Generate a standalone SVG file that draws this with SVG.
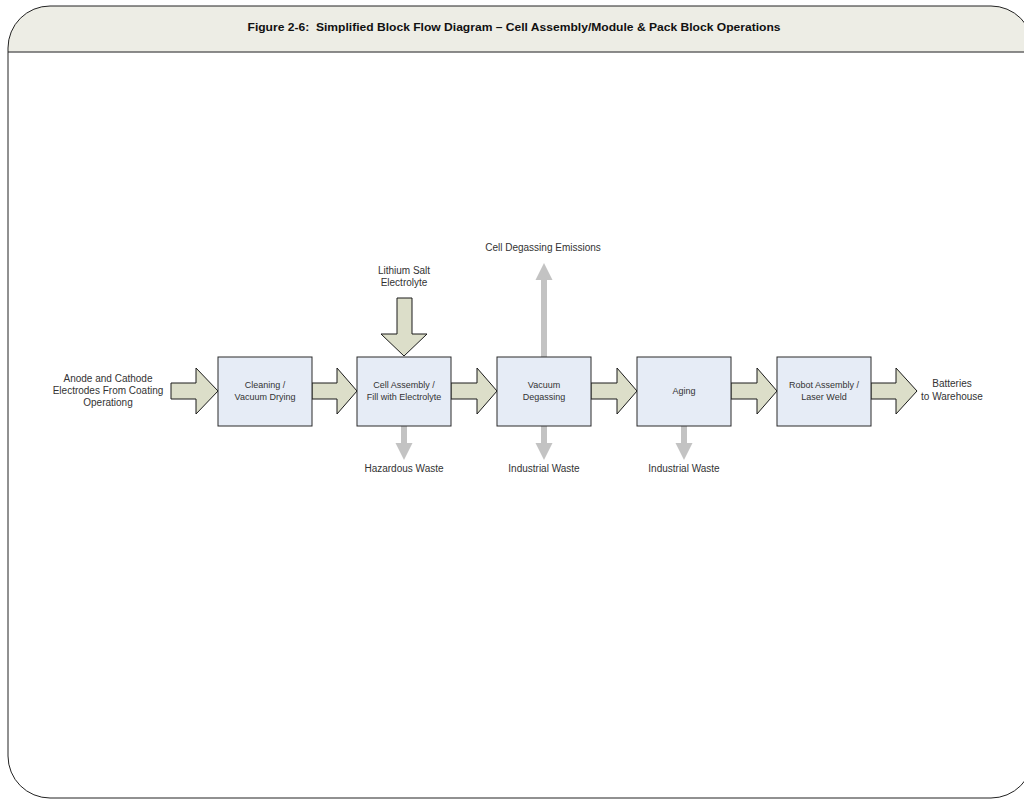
<svg xmlns="http://www.w3.org/2000/svg" width="1024" height="799" viewBox="0 0 1024 799">
<style>
.box{fill:#E6ECF6;stroke:#2a2a2a;stroke-width:1}
.flow{fill:#DCDEC9;stroke:#1a1a1a;stroke-width:1}
.waste{fill:#C3C3C3;stroke:none}
.t{font-family:"Liberation Sans",Arial,sans-serif;fill:#333;text-anchor:middle}
.lbl{font-size:10px}
.bt{font-size:9px}
.title{font-family:"Liberation Sans",Arial,sans-serif;font-size:11px;font-weight:bold;fill:#111;text-anchor:middle;white-space:pre}
</style>
<defs>
<clipPath id="fc"><rect x="8" y="6" width="1025" height="792" rx="42" ry="42"/></clipPath>
</defs>
<rect x="0" y="0" width="1024" height="799" fill="#fff"/>
<g id="frame">
<rect x="8" y="6" width="1025" height="46" fill="#EDEDE5" clip-path="url(#fc)"/>
<line x1="8" y1="52" x2="1024" y2="52" stroke="#666" stroke-width="1.5"/>
<rect x="8" y="6" width="1025" height="792" rx="42" ry="42" fill="none" stroke="#222" stroke-width="1"/>
<text class="title" x="514" y="31" textLength="533" lengthAdjust="spacingAndGlyphs" xml:space="preserve">Figure 2-6:  Simplified Block Flow Diagram – Cell Assembly/Module &amp; Pack Block Operations</text>
</g>
<g id="connectors">
<polygon class="flow" points="171,383 196,383 196,368 218,391 196,414 196,399 171,399"/>
<polygon class="flow" points="312,383 337,383 337,368 357,391 337,414 337,399 312,399"/>
<polygon class="flow" points="451,383 477,383 477,368 497,391 477,414 477,399 451,399"/>
<polygon class="flow" points="591,383 617,383 617,368 637,391 617,414 617,399 591,399"/>
<polygon class="flow" points="731,383 757,383 757,368 777,391 757,414 757,399 731,399"/>
<polygon class="flow" points="871,383 896,383 896,368 917,391 896,414 896,399 871,399"/>
<polygon class="flow" points="397,298 412,298 412,334 427,334 404,356 381,334 397,334"/>
<polygon class="waste" points="541,357 547,357 547,280 552.5,280 544,263 535.5,280 541,280"/>
<polygon class="waste" points="401,426 407,426 407,443 412.5,443 404,460 395.5,443 401,443"/>
<polygon class="waste" points="541,426 547,426 547,443 552.5,443 544,460 535.5,443 541,443"/>
<polygon class="waste" points="681,426 687,426 687,443 692.5,443 684,460 675.5,443 681,443"/>
</g>
<g id="n1"><rect class="box" x="218" y="357" width="94" height="69"/>
<text class="t bt" x="265" y="388">Cleaning /</text><text class="t bt" x="265" y="400">Vacuum Drying</text></g>
<g id="n2"><rect class="box" x="357" y="357" width="94" height="69"/>
<text class="t bt" x="404" y="388">Cell Assembly /</text><text class="t bt" x="404" y="400">Fill with Electrolyte</text></g>
<g id="n3"><rect class="box" x="497" y="357" width="94" height="69"/>
<text class="t bt" x="544" y="388">Vacuum</text><text class="t bt" x="544" y="400">Degassing</text></g>
<g id="n4"><rect class="box" x="637" y="357" width="94" height="69"/>
<text class="t bt" x="684" y="394">Aging</text></g>
<g id="n5"><rect class="box" x="777" y="357" width="94" height="69"/>
<text class="t bt" x="824" y="388">Robot Assembly /</text><text class="t bt" x="824" y="400">Laser Weld</text></g>
<g id="in-label"><text class="t lbl" x="108" y="382">Anode and Cathode</text><text class="t lbl" x="108" y="394">Electrodes From Coating</text><text class="t lbl" x="108" y="406">Operationg</text></g>
<g id="li-label"><text class="t lbl" x="404" y="274">Lithium Salt</text><text class="t lbl" x="404" y="286">Electrolyte</text></g>
<g id="em-label"><text class="t lbl" x="543" y="251">Cell Degassing Emissions</text></g>
<g id="out-label"><text class="t lbl" x="952" y="387">Batteries</text><text class="t lbl" x="952" y="400">to Warehouse</text></g>
<g id="w1"><text class="t lbl" x="404" y="472">Hazardous Waste</text></g>
<g id="w2"><text class="t lbl" x="544" y="472">Industrial Waste</text></g>
<g id="w3"><text class="t lbl" x="684" y="472">Industrial Waste</text></g>
</svg>
